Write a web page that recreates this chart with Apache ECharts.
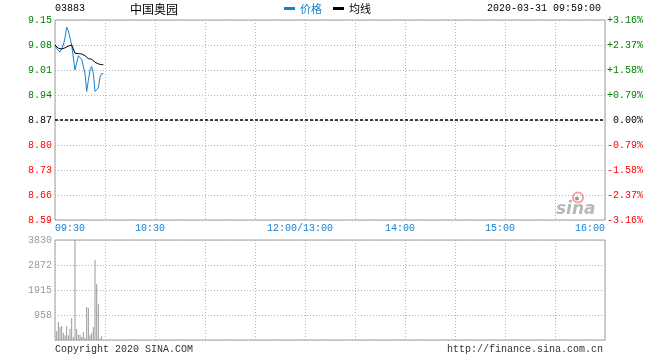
<!DOCTYPE html>
<html><head><meta charset="utf-8">
<script src="https://cdn.jsdelivr.net/npm/echarts@6/dist/echarts.min.js"></script>
<style>html,body{margin:0;padding:0;background:#fff}#c{width:660px;height:360px}</style>
</head><body><div id="c"></div>
<script>
const stockCode = '03883';
const stockName = '中国奥园';
const stamp = '2020-03-31 09:59:00';
const prevClose = 8.87;
const priceStep = 0.07;
const times = ['09:30','09:31','09:32','09:33','09:34','09:35','09:36','09:37','09:38','09:39',
               '09:40','09:41','09:42','09:43','09:44','09:45','09:46','09:47','09:48','09:49',
               '09:50','09:51','09:52','09:53','09:54','09:55','09:56','09:57','09:58','09:59'];
const prices = [9.08,9.07,9.07,9.06,9.06,9.08,9.10,9.13,9.12,9.10,
                9.08,9.08,9.01,9.03,9.05,9.05,9.04,9.04,9.00,8.95,
                8.98,9.01,9.02,9.00,8.95,8.95,8.96,8.99,9.00,9.00];
const avgPrices = [9.080,9.075,9.071,9.069,9.069,9.070,9.072,9.075,9.077,9.079,
                   9.080,9.080,9.057,9.056,9.056,9.056,9.055,9.054,9.050,9.045,
                   9.042,9.041,9.040,9.036,9.032,9.030,9.027,9.026,9.025,9.025];
const volumes = [0,333,689,498,536,268,180,536,172,434,
                 843,115,3830,421,204,204,115,306,77,1264,
                 1226,180,268,498,3077,2145,1379,60,140,0];
const priceTicks = ['8.59','8.66','8.73','8.80','8.87','8.94','9.01','9.08','9.15'];
const pctTicks = ['-3.16%','-2.37%','-1.58%','-0.79%','0.00%','+0.79%','+1.58%','+2.37%','+3.16%'];
const volTicks = ['', '958', '1915', '2872', '3830'];
const axisTimes = ['09:30','10:30','12:00/13:00','14:00','15:00','16:00'];

function minuteOf(t) {
  const p = t.split('/')[0].split(':');
  let m = (+p[0]) * 60 + (+p[1]) - 570;
  if (m > 150) m -= 60;
  return m;
}
const BLUE = '#1182d4', GREEN = '#008000', RED = '#ff0000', GRID = '#b4b4b4', BORDER = '#a0a0a0';
const MONO = '"Liberation Mono", "DejaVu Sans Mono", monospace';
const CJK = '"Noto Sans CJK SC", sans-serif';

const priceData = times.map((t, i) => [minuteOf(t), (prices[i] - prevClose) / priceStep]);
const avgData = times.map((t, i) => [minuteOf(t), (avgPrices[i] - prevClose) / priceStep]);
const volData = times.map((t, i) => [minuteOf(t), volumes[i]]);
const tickColor = (i) => i > 4 ? GREEN : (i < 4 ? RED : '#000');

const chart = echarts.init(document.getElementById('c'), null, {renderer: 'canvas'});
const splitDotted = {show: true, lineStyle: {color: GRID, type: [1, 2], width: 1}};
chart.setOption({
  animation: false,
  backgroundColor: '#fff',
  textStyle: {fontFamily: MONO},
  legend: {
    left: 284, top: 3, padding: 0, itemGap: 11, itemWidth: 11, itemHeight: 3, icon: 'rect',
    textStyle: {fontFamily: CJK, fontSize: 11, padding: [0, 0, 3, 0]},
    data: [{name: '价格', textStyle: {color: BLUE}}, {name: '均线', textStyle: {color: '#000'}}],
    selectedMode: false
  },
  grid: [
    {left: 55, right: 55, top: 20, height: 200, show: true, borderColor: BORDER, borderWidth: 1},
    {left: 55, right: 55, top: 240, height: 100, show: true, borderColor: BORDER, borderWidth: 1}
  ],
  xAxis: [
    {type: 'value', gridIndex: 0, min: 0, max: 330, interval: 30,
     axisLine: {show: false}, axisTick: {show: false}, splitLine: splitDotted,
     axisLabel: {
       margin: 3, fontFamily: MONO, fontSize: 10, color: BLUE,
       formatter: function (v) {
         const lab = axisTimes.find(t => minuteOf(t) === v);
         if (!lab) return '';
         if (v === 0) return '{l|' + lab + '}';
         if (v === 330) return '{r|' + lab + '}';
         return '{m|' + lab + '}';
       },
       rich: {
         l: {padding: [0, 0, 0, 30], fontFamily: MONO, fontSize: 10, color: BLUE},
         r: {padding: [0, 30, 0, 0], fontFamily: MONO, fontSize: 10, color: BLUE},
         m: {padding: [0, 10, 0, 0], fontFamily: MONO, fontSize: 10, color: BLUE}
       }
     }},
    {type: 'value', gridIndex: 1, min: 0, max: 330, interval: 30,
     axisLine: {show: false}, axisTick: {show: false}, axisLabel: {show: false}, splitLine: splitDotted}
  ],
  yAxis: [
    {type: 'value', gridIndex: 0, min: -4, max: 4, interval: 1,
     axisLine: {show: false}, axisTick: {show: false}, splitLine: splitDotted,
     axisLabel: {margin: 3, fontFamily: MONO, fontSize: 10, padding: [0, 0, 4, 0],
       formatter: (v) => priceTicks[Math.round(v) + 4],
       color: (v) => tickColor(Math.round(v) + 4)}},
    {type: 'value', gridIndex: 0, min: -4, max: 4, interval: 1, position: 'right',
     axisLine: {show: false}, axisTick: {show: false}, splitLine: {show: false},
     axisLabel: {margin: 38, align: 'right', fontFamily: MONO, fontSize: 10, padding: [0, 0, 4, 0],
       formatter: (v) => pctTicks[Math.round(v) + 4],
       color: (v) => tickColor(Math.round(v) + 4)}},
    {type: 'value', gridIndex: 1, min: 0, max: 3830, interval: 957.5,
     axisLine: {show: false}, axisTick: {show: false}, splitLine: splitDotted,
     axisLabel: {margin: 3, fontFamily: MONO, fontSize: 10, color: '#999', padding: [0, 0, 5, 0],
       formatter: (v, i) => volTicks[i] || ''}}
  ],
  series: [
    {name: '价格', type: 'line', xAxisIndex: 0, yAxisIndex: 0, data: priceData, showSymbol: false,
     color: BLUE, lineStyle: {color: BLUE, width: 1}, silent: true,
     markLine: {silent: true, symbol: 'none', label: {show: false},
       lineStyle: {color: '#000', type: [3, 2], width: 1.5},
       data: [{yAxis: 0}]}},
    {name: '均线', type: 'line', xAxisIndex: 0, yAxisIndex: 0, data: avgData, showSymbol: false,
     color: '#000', lineStyle: {color: '#000', width: 1}, silent: true},
    {name: '成交量', type: 'bar', xAxisIndex: 1, yAxisIndex: 2, data: volData, barWidth: 1,
     itemStyle: {color: '#999'}, silent: true}
  ],
  graphic: [
    {type: 'text', left: 55, top: 3, style: {text: stockCode, font: '10px ' + MONO, fill: '#000'}},
    {type: 'text', left: 130, top: 3, style: {text: stockName, font: '12px ' + CJK, fill: '#000'}},
    {type: 'text', right: 59, top: 3, style: {text: stamp, font: '10px ' + MONO, fill: '#000'}},
    {type: 'text', left: 55, top: 344, style: {text: 'Copyright 2020 SINA.COM', font: '10px ' + MONO, fill: '#333'}},
    {type: 'text', right: 57, top: 344, style: {text: 'http://finance.sina.com.cn', font: '10px ' + MONO, fill: '#333'}},
    {type: 'group', left: 556, top: 190, children: [
      {type: 'circle', shape: {cx: 24, cy: 6, r: 5}, style: {fill: 'none', stroke: '#f4a0a0', lineWidth: 2}},
      {type: 'circle', shape: {cx: 23, cy: 7, r: 2}, style: {fill: '#999'}},
      {type: 'text', x: 2, y: 10, style: {text: 'sina', font: 'italic bold 17px "DejaVu Sans", sans-serif', fill: '#b8b8b8'}}
    ]}
  ]
});
</script></body></html>
